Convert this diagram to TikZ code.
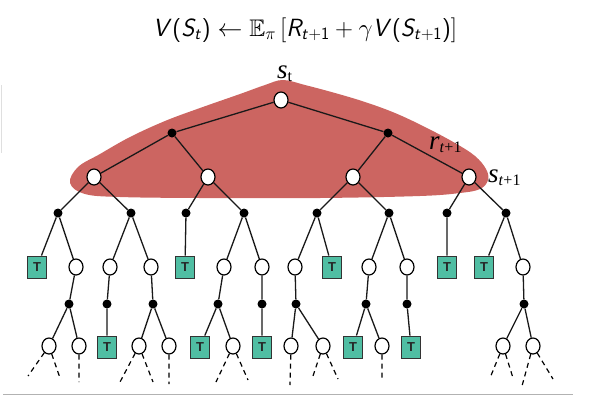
\documentclass[tikz,border=0pt]{standalone}
\usepackage{amssymb}
\usepackage{fontspec}
\newfontfamily\tms{Liberation Serif}
\newfontfamily\arl{Liberation Sans}
\usetikzlibrary{shapes.geometric}
\DeclareMathAlphabet{\mathsfit}{OT1}{cmss}{m}{sl}
\DeclareMathAlphabet{\mathsfup}{OT1}{cmss}{m}{n}
\definecolor{blob}{RGB}{204,101,97}
\definecolor{tealbox}{RGB}{80,190,163}
\newcommand{\lab}[2]{{\tms\itshape #1}\raisebox{-0.3ex}{\tms\fontsize{16}{16}\selectfont #2}}
\begin{document}
\begin{tikzpicture}[x=1pt,y=-1pt,
  st/.style={ellipse,draw,fill=white,line width=1.2pt,minimum width=14pt,minimum height=16pt,inner sep=0pt},
  act/.style={circle,fill=black,minimum size=9pt,inner sep=0pt},
  term/.style={rectangle,draw=black!80,fill=tealbox,line width=0.9pt,minimum width=19pt,minimum height=22pt,inner sep=0pt,font=\arl\bfseries\fontsize{13}{13}\selectfont,text=black!85},
  edge/.style={line width=1.3pt,black!90},
  dsh/.style={line width=1.2pt,dash pattern=on 5pt off 4pt},
  lbl/.style={anchor=base west,inner sep=0pt,font=\fontsize{27}{27}\selectfont}]
\useasboundingbox (0,0) rectangle (597,402);
% formula
\node[font=\fontsize{24}{28}\selectfont] (eq) at (305,30)
 {$\mathsfit{V}\textsf{(}\mathsfit{S}_{\mathsfit{t}}\textsf{)} \leftarrow \mathbb{E}_{\pi}\,\big[\mathsfit{R}_{\mathsfit{t}+\mathsfup{1}} + \gamma \mathsfit{V}\textsf{(}\mathsfit{S}_{\mathsfit{t}+\mathsfup{1}}\textsf{)}\big]$};
% faint marks
\draw[gray!25,line width=1pt] (1,85) coordinate (m1) -- (1,153) coordinate (m2);
\draw[gray!60,line width=1pt] (3,394) coordinate (l1) -- (573,394) coordinate (l2);
% blob
\fill[blob] plot[smooth cycle, tension=0.6] coordinates {(70,183) (78,167) (100,154) (130,137) (165,121) (200,108) (240,94) (265,85) (283,80) (305,85) (335,93) (365,102) (395,113) (425,127) (455,143) (475,156) (486,169) (488,180) (480,189) (460,193) (420,196) (320,198) (200,198) (120,197) (85,194)};
% labels
\node[lbl] (ls) at (277,78) {\lab{s}{t}};
\node[lbl] (lr) at (429,149) {\lab{r}{\textit{t}+1}};
\node[lbl] (ls1) at (488,182) {\lab{s}{\textit{t}+1}};
% level 0-2
\node[st] (r) at (281,100) {};
\node[act] (a1) at (172,133) {};
\node[act] (a2) at (388,133) {};
\node[st] (b1) at (94,177) {};
\node[st] (b2) at (208,177) {};
\node[st] (b3) at (353,177) {};
\node[st] (b4) at (469,177) {};
% level 3
\foreach \n/\x in {1/58,2/131,3/186,4/244,5/317,6/389,7/447,8/506}
  \node[act] (c\n) at (\x,213) {};
% level 4
\node[term] (d1) at (37,267) {T};
\node[st] (d2) at (76,267) {};
\node[st] (d3) at (110,267) {};
\node[st] (d4) at (151,267) {};
\node[term] (d5) at (185,267) {T};
\node[st] (d6) at (224,267) {};
\node[st] (d7) at (262,267) {};
\node[st] (d8) at (295,267) {};
\node[term] (d9) at (332,267) {T};
\node[st] (d10) at (369,267) {};
\node[st] (d11) at (407,267) {};
\node[term] (d12) at (447,267) {T};
\node[term] (d13) at (484,267) {T};
\node[st] (d14) at (523,267) {};
% level 5
\foreach \n/\x in {1/69,2/107,3/153,4/218,5/262,6/296,7/366,8/407,9/524}
  \node[act] (e\n) at (\x,304) {};
% level 6
\node[st] (f1) at (49,346) {};
\node[st] (f2) at (79,346) {};
\node[term] (f3) at (107,347) {T};
\node[st] (f4) at (139,346) {};
\node[st] (f5) at (169,346) {};
\node[term] (f6) at (200,347) {T};
\node[st] (f7) at (233,346) {};
\node[term] (f8) at (262,347) {T};
\node[st] (f9) at (291,346) {};
\node[st] (f10) at (323,346) {};
\node[term] (f11) at (353,347) {T};
\node[st] (f12) at (382,346) {};
\node[term] (f13) at (411,347) {T};
\node[st] (f14) at (503,346) {};
\node[st] (f15) at (533,346) {};
% edges
\draw[edge] (r) -- (a1) (r) -- (a2)
  (a1) -- (b1) (a1) -- (b2) (a2) -- (b3) (a2) -- (b4)
  (b1) -- (c1) (b1) -- (c2) (b2) -- (c3) (b2) -- (c4)
  (b3) -- (c5) (b3) -- (c6) (b4) -- (c7) (b4) -- (c8)
  (c1) -- (d1) (c1) -- (d2) (c2) -- (d3) (c2) -- (d4) (c3) -- (d5)
  (c4) -- (d6) (c4) -- (d7) (c5) -- (d8) (c5) -- (d9)
  (c6) -- (d10) (c6) -- (d11) (c7) -- (d12) (c8) -- (d13) (c8) -- (d14)
  (d2) -- (e1) (d3) -- (e2) (d4) -- (e3) (d6) -- (e4) (d7) -- (e5)
  (d8) -- (e6) (d10) -- (e7) (d11) -- (e8) (d14) -- (e9)
  (e1) -- (f1) (e1) -- (f2) (e2) -- (f3) (e3) -- (f4) (e3) -- (f5)
  (e4) -- (f6) (e4) -- (f7) (e5) -- (f8) (e6) -- (f9) (e6) -- (f10)
  (e7) -- (f11) (e7) -- (f12) (e8) -- (f13) (e9) -- (f14) (e9) -- (f15);
% dashed continuations
\coordinate (g1) at (28,376); \coordinate (g2) at (60,378);
\coordinate (g3) at (79,382);
\coordinate (g4) at (120,382); \coordinate (g5) at (153,382);
\coordinate (g6) at (169,384);
\coordinate (g7) at (216,382); \coordinate (g8) at (248,380);
\coordinate (g9) at (290,385);
\coordinate (g10) at (312,379); \coordinate (g11) at (338,379);
\coordinate (g12) at (382,381);
\coordinate (g13) at (490,378); \coordinate (g14) at (513,378);
\coordinate (g15) at (522,386); \coordinate (g16) at (553,379);
\draw[dsh] (f1) -- (g1) (f1) -- (g2) (f2) -- (g3)
  (f4) -- (g4) (f4) -- (g5) (f5) -- (g6)
  (f7) -- (g7) (f7) -- (g8) (f9) -- (g9)
  (f10) -- (g10) (f10) -- (g11) (f12) -- (g12)
  (f14) -- (g13) (f14) -- (g14) (f15) -- (g15) (f15) -- (g16);
\end{tikzpicture}
\end{document}
